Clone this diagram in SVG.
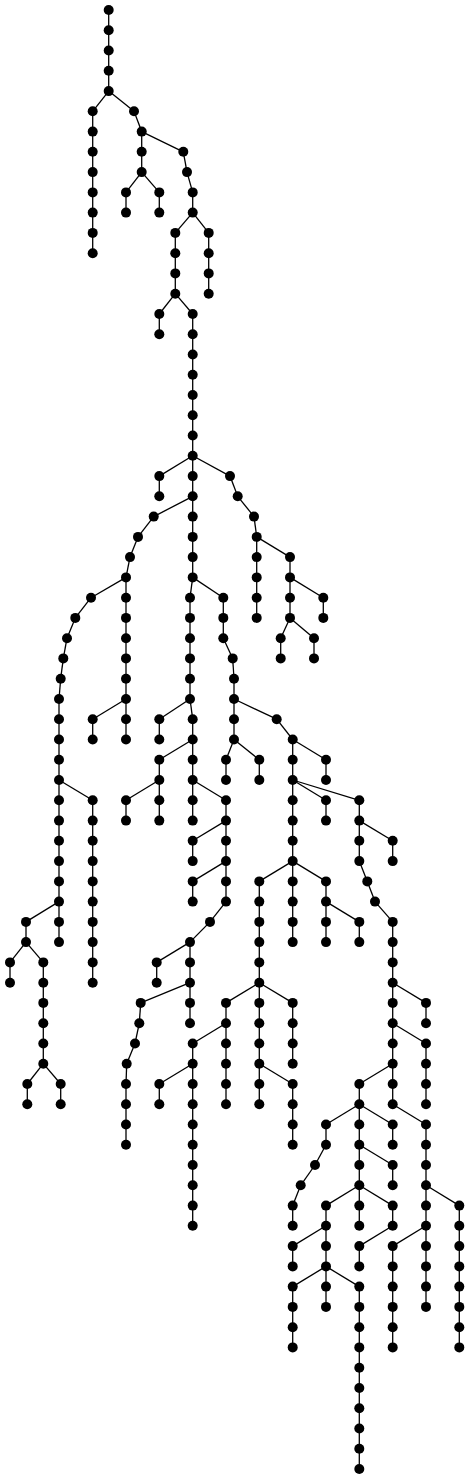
<svg xmlns="http://www.w3.org/2000/svg" width="470" height="1479" viewBox="0 0 470 1479">
<style>
.edges path{stroke:#000;stroke-width:1.3;fill:none}
.node circle{fill:#000}
</style>
<rect width="470" height="1479" fill="#fff"/>
<g id="connectors" class="edges">
<path d="M108.7 10V30.3"/><path d="M108.7 30.3V50.5"/><path d="M108.7 50.5V70.8"/><path d="M108.7 70.8V91.1"/>
<path d="M108.7 91.1L92.7 111.3"/><path d="M92.7 111.3V131.6"/><path d="M92.7 131.6V151.8"/><path d="M92.7 151.8V172.1"/><path d="M92.7 172.1V192.4"/><path d="M92.7 192.4V212.6"/><path d="M92.7 212.6V232.9"/><path d="M92.7 232.9V253.2"/>
<path d="M108.7 91.1L134 111.3"/><path d="M134 111.3L141.7 131.6"/><path d="M141.7 131.6V151.8"/><path d="M141.7 151.8V172.1"/>
<path d="M141.7 172.1L126 192.4"/><path d="M126 192.4V212.6"/><path d="M141.7 172.1L159.3 192.4"/><path d="M159.3 192.4V212.6"/>
<path d="M141.7 131.6L183.3 151.8"/><path d="M183.3 151.8L187 172.1"/><path d="M187 172.1L192.7 192.4"/><path d="M192.7 192.4V212.6"/>
<path d="M192.7 212.6L208.7 232.9"/><path d="M208.7 232.9V253.2"/><path d="M208.7 253.2V273.4"/><path d="M208.7 273.4V293.7"/>
<path d="M192.7 212.6L175.3 232.9"/><path d="M175.3 232.9V253.2"/><path d="M175.3 253.2V273.4"/><path d="M175.3 273.4V293.7"/>
<path d="M175.3 293.7L159.3 314"/><path d="M159.3 314V334.2"/>
<path d="M175.3 293.7L192.7 314"/><path d="M192.7 314V334.2"/><path d="M192.7 334.2V354.5"/><path d="M192.7 354.5V374.8"/><path d="M192.7 374.8V395"/><path d="M192.7 395V415.3"/><path d="M192.7 415.3V435.5"/><path d="M192.7 435.5V455.8"/>
<path d="M192.7 455.8L159.3 476.1"/><path d="M159.3 476.1V496.3"/>
<path d="M192.7 455.8V476.1"/><path d="M192.7 476.1V496.3"/>
<path d="M192.7 455.8L230 476.1"/><path d="M230 476.1L237.7 496.3"/><path d="M237.7 496.3L254 516.6"/><path d="M254 516.6L256.7 536.9"/>
<path d="M256.7 536.9V557.1"/><path d="M256.7 557.1V577.4"/><path d="M256.7 577.4V597.7"/><path d="M256.7 597.7V617.9"/>
<path d="M256.7 536.9L290 557.1"/><path d="M290 557.1V577.4"/>
<path d="M290 577.4L323.3 597.7"/><path d="M323.3 597.7V617.9"/>
<path d="M290 577.4V597.7"/><path d="M290 597.7V617.9"/>
<path d="M290 617.9L280.7 638.2"/><path d="M280.7 638.2V658.4"/>
<path d="M290 617.9L314 638.2"/><path d="M314 638.2V658.4"/>
<path d="M192.7 496.3L153.7 516.6"/><path d="M153.7 516.6L138 536.9"/><path d="M138 536.9L130 557.1"/><path d="M130 557.1L126 577.4"/>
<path d="M192.7 496.3V516.6"/><path d="M192.7 516.6V536.9"/><path d="M192.7 536.9V557.1"/><path d="M192.7 557.1V577.4"/>
<path d="M126 577.4L91 597.7"/><path d="M91 597.7L75.3 617.9"/><path d="M75.3 617.9L67 638.2"/><path d="M67 638.2L63.3 658.4"/><path d="M63.3 658.4L60.7 678.7"/><path d="M60.7 678.7L59 699"/>
<path d="M59 699V719.2"/><path d="M59 719.2V739.5"/><path d="M59 739.5V759.8"/><path d="M59 759.8V780"/>
<path d="M126 577.4V597.7"/><path d="M126 597.7V617.9"/><path d="M126 617.9V638.2"/><path d="M126 638.2V658.4"/><path d="M126 658.4V678.7"/><path d="M126 678.7V699"/>
<path d="M126 699L92.7 719.2"/><path d="M92.7 719.2V739.5"/>
<path d="M126 699V719.2"/><path d="M126 719.2V739.5"/>
<path d="M59 780V800.3"/><path d="M59 800.3V820.6"/><path d="M59 820.6V840.8"/><path d="M59 840.8V861.1"/><path d="M59 861.1V881.4"/><path d="M59 881.4V901.6"/>
<path d="M59 780L92.7 800.3"/><path d="M92.7 800.3V820.6"/><path d="M92.7 820.6V840.8"/><path d="M92.7 840.8V861.1"/><path d="M92.7 861.1V881.4"/><path d="M92.7 881.4V901.6"/><path d="M92.7 901.6V921.9"/><path d="M92.7 921.9V942.1"/><path d="M92.7 942.1V962.4"/><path d="M92.7 962.4V982.7"/>
<path d="M59 901.6L26 921.9"/><path d="M26 921.9V942.1"/>
<path d="M59 901.6V921.9"/><path d="M59 921.9V942.1"/>
<path d="M26 942.1L10 962.4"/><path d="M10 962.4V982.7"/>
<path d="M26 942.1L43.3 962.4"/><path d="M43.3 962.4V982.7"/><path d="M43.3 982.7V1002.9"/><path d="M43.3 1002.9V1023.2"/><path d="M43.3 1023.2V1043.5"/><path d="M43.3 1043.5V1063.7"/>
<path d="M43.3 1063.7L27.3 1084"/><path d="M27.3 1084V1104.3"/>
<path d="M43.3 1063.7L60.7 1084"/><path d="M60.7 1084V1104.3"/>
<path d="M192.7 577.4L190 597.7"/><path d="M190 597.7V617.9"/><path d="M190 617.9V638.2"/><path d="M190 638.2V658.4"/><path d="M190 658.4V678.7"/><path d="M190 678.7V699"/>
<path d="M190 699L159.3 719.2"/><path d="M159.3 719.2V739.5"/>
<path d="M190 699L192.7 719.2"/><path d="M192.7 719.2V739.5"/>
<path d="M192.7 739.5L159.3 759.8"/><path d="M159.3 759.8V780"/>
<path d="M159.3 780L126 800.3"/><path d="M126 800.3V820.6"/>
<path d="M159.3 780V800.3"/><path d="M159.3 800.3V820.6"/>
<path d="M192.7 739.5V759.8"/><path d="M192.7 759.8V780"/>
<path d="M192.7 780L226 800.3"/><path d="M226 800.3V820.6"/>
<path d="M192.7 780V800.3"/><path d="M192.7 800.3V820.6"/>
<path d="M226 820.6L192.7 840.8"/><path d="M192.7 840.8V861.1"/>
<path d="M226 820.6V840.8"/><path d="M226 840.8V861.1"/>
<path d="M226 861.1L192.7 881.4"/><path d="M192.7 881.4V901.6"/>
<path d="M226 861.1V881.4"/><path d="M226 881.4V901.6"/>
<path d="M226 901.6L210 921.9"/><path d="M210 921.9L190 942.1"/>
<path d="M190 942.1L156.7 962.4"/><path d="M156.7 962.4V982.7"/>
<path d="M190 942.1V962.4"/><path d="M190 962.4V982.7"/>
<path d="M190 982.7L140.7 1002.9"/><path d="M140.7 1002.9L139.3 1023.2"/><path d="M139.3 1023.2L135 1043.5"/><path d="M135 1043.5L126.7 1063.7"/><path d="M126.7 1063.7L126 1084"/>
<path d="M126 1084V1104.3"/><path d="M126 1104.3V1124.5"/><path d="M126 1124.5V1144.8"/>
<path d="M190 982.7V1002.9"/><path d="M190 1002.9V1023.2"/>
<path d="M192.7 577.4L223.3 597.7"/><path d="M223.3 597.7V617.9"/><path d="M223.3 617.9V638.2"/><path d="M223.3 638.2L232.7 658.4"/><path d="M232.7 658.4L234 678.7"/><path d="M234 678.7V699"/>
<path d="M234 699L276.7 719.2"/><path d="M276.7 719.2L292.7 739.5"/>
<path d="M234 699V719.2"/><path d="M234 719.2V739.5"/>
<path d="M234 739.5L226 759.8"/><path d="M226 759.8V780"/>
<path d="M234 739.5L259.3 759.8"/><path d="M259.3 759.8V780"/>
<path d="M292.7 739.5L326 759.8"/><path d="M326 759.8V780"/>
<path d="M292.7 739.5V759.8"/><path d="M292.7 759.8V780"/>
<path d="M292.7 780V800.3"/><path d="M292.7 800.3V820.6"/><path d="M292.7 820.6V840.8"/><path d="M292.7 840.8V861.1"/>
<path d="M292.7 780L326 800.3"/><path d="M326 800.3V820.6"/>
<path d="M292.7 780L359.3 800.3"/><path d="M359.3 800.3V820.6"/>
<path d="M359.3 820.6L392.7 840.8"/><path d="M392.7 840.8V861.1"/>
<path d="M359.3 820.6V840.8"/><path d="M359.3 840.8V861.1"/>
<path d="M359.3 861.1L367.3 881.4"/><path d="M367.3 881.4L375 901.6"/><path d="M375 901.6L392.7 921.9"/>
<path d="M392.7 921.9V942.1"/><path d="M392.7 942.1V962.4"/><path d="M392.7 962.4V982.7"/><path d="M392.7 982.7V1002.9"/><path d="M392.7 1002.9V1023.2"/>
<path d="M292.7 861.1L259.3 881.4"/><path d="M259.3 881.4V901.6"/><path d="M259.3 901.6V921.9"/><path d="M259.3 921.9V942.1"/><path d="M259.3 942.1V962.4"/><path d="M259.3 962.4V982.7"/>
<path d="M292.7 861.1V881.4"/><path d="M292.7 881.4V901.6"/><path d="M292.7 901.6V921.9"/><path d="M292.7 921.9V942.1"/>
<path d="M292.7 861.1L326 881.4"/><path d="M326 881.4V901.6"/>
<path d="M326 901.6V921.9"/><path d="M326 921.9V942.1"/>
<path d="M326 901.6L359.3 921.9"/><path d="M359.3 921.9V942.1"/>
<path d="M259.3 982.7L226 1002.9"/><path d="M226 1002.9V1023.2"/>
<path d="M259.3 982.7V1002.9"/><path d="M259.3 1002.9V1023.2"/><path d="M259.3 1023.2V1043.5"/><path d="M259.3 1043.5V1063.7"/>
<path d="M259.3 982.7L292.7 1002.9"/><path d="M292.7 1002.9V1023.2"/><path d="M292.7 1023.2V1043.5"/><path d="M292.7 1043.5V1063.7"/>
<path d="M226 1023.2L192.7 1043.5"/><path d="M192.7 1043.5V1063.7"/>
<path d="M226 1023.2V1043.5"/><path d="M226 1043.5V1063.7"/><path d="M226 1063.7V1084"/><path d="M226 1084V1104.3"/>
<path d="M192.7 1063.7L159.3 1084"/><path d="M159.3 1084V1104.3"/>
<path d="M192.7 1063.7V1084"/><path d="M192.7 1084V1104.3"/><path d="M192.7 1104.3V1124.5"/><path d="M192.7 1124.5V1144.8"/><path d="M192.7 1144.8V1165"/><path d="M192.7 1165V1185.3"/><path d="M192.7 1185.3V1205.6"/><path d="M192.7 1205.6V1225.8"/>
<path d="M259.3 1063.7V1084"/><path d="M259.3 1084V1104.3"/>
<path d="M259.3 1063.7L292.7 1084"/><path d="M292.7 1084V1104.3"/><path d="M292.7 1104.3V1124.5"/><path d="M292.7 1124.5V1144.8"/>
<path d="M392.7 982.7L426 1002.9"/><path d="M426 1002.9V1023.2"/>
<path d="M392.7 1023.2L426 1043.5"/><path d="M426 1043.5V1063.7"/><path d="M426 1063.7V1084"/><path d="M426 1084V1104.3"/>
<path d="M392.7 1023.2V1043.5"/><path d="M392.7 1043.5V1063.7"/>
<path d="M392.7 1063.7L359.3 1084"/><path d="M359.3 1084V1104.3"/>
<path d="M392.7 1063.7V1084"/><path d="M392.7 1084V1104.3"/>
<path d="M392.7 1104.3L426 1124.5"/><path d="M426 1124.5V1144.8"/><path d="M426 1144.8V1165"/><path d="M426 1165V1185.3"/>
<path d="M426 1185.3L459.3 1205.6"/><path d="M459.3 1205.6V1225.8"/><path d="M459.3 1225.8V1246.1"/><path d="M459.3 1246.1V1266.4"/><path d="M459.3 1266.4V1286.6"/><path d="M459.3 1286.6V1306.9"/><path d="M459.3 1306.9V1327.2"/><path d="M459.3 1327.2V1347.4"/>
<path d="M426 1185.3V1205.6"/><path d="M426 1205.6V1225.8"/>
<path d="M426 1225.8L392.7 1246.1"/><path d="M392.7 1246.1V1266.4"/><path d="M392.7 1266.4V1286.6"/><path d="M392.7 1286.6V1306.9"/><path d="M392.7 1306.9V1327.2"/><path d="M392.7 1327.2V1347.4"/>
<path d="M426 1225.8V1246.1"/><path d="M426 1246.1V1266.4"/><path d="M426 1266.4V1286.6"/><path d="M426 1286.6V1306.9"/>
<path d="M359.3 1104.3L326 1124.5"/><path d="M326 1124.5V1144.8"/><path d="M326 1144.8L315 1165"/><path d="M315 1165L300.7 1185.3"/><path d="M300.7 1185.3L292.7 1205.6"/><path d="M292.7 1205.6V1225.8"/>
<path d="M359.3 1104.3V1124.5"/><path d="M359.3 1124.5V1144.8"/>
<path d="M359.3 1104.3L392.7 1124.5"/><path d="M392.7 1124.5V1144.8"/>
<path d="M359.3 1144.8L392.7 1165"/><path d="M392.7 1165V1185.3"/>
<path d="M359.3 1144.8V1165"/><path d="M359.3 1165V1185.3"/>
<path d="M359.3 1185.3L326 1205.6"/><path d="M326 1205.6V1225.8"/>
<path d="M359.3 1185.3V1205.6"/><path d="M359.3 1205.6V1225.8"/>
<path d="M359.3 1185.3L392.7 1205.6"/><path d="M392.7 1205.6V1225.8"/>
<path d="M326 1225.8L292.7 1246.1"/><path d="M292.7 1246.1V1266.4"/>
<path d="M326 1225.8V1246.1"/><path d="M326 1246.1V1266.4"/>
<path d="M326 1266.4L292.7 1286.6"/><path d="M292.7 1286.6V1306.9"/><path d="M292.7 1306.9V1327.2"/><path d="M292.7 1327.2V1347.4"/>
<path d="M326 1266.4V1286.6"/><path d="M326 1286.6V1306.9"/>
<path d="M326 1266.4L359.3 1286.6"/><path d="M359.3 1286.6V1306.9"/><path d="M359.3 1306.9V1327.2"/><path d="M359.3 1327.2V1347.4"/><path d="M359.3 1347.4V1367.7"/><path d="M359.3 1367.7V1388"/><path d="M359.3 1388V1408.2"/><path d="M359.3 1408.2V1428.5"/><path d="M359.3 1428.5V1448.7"/><path d="M359.3 1448.7V1469"/>
<path d="M392.7 1225.8L359.3 1246.1"/><path d="M359.3 1246.1V1266.4"/>
</g>
<g id="nodes" class="node">
<g id="n0-108"><circle cx="108.7" cy="10" r="5"/></g>
<g id="n1-108"><circle cx="108.7" cy="30.3" r="5"/></g>
<g id="n2-108"><circle cx="108.7" cy="50.5" r="5"/></g>
<g id="n3-108"><circle cx="108.7" cy="70.8" r="5"/></g>
<g id="n4-108"><circle cx="108.7" cy="91.1" r="5"/></g>
<g id="n5-92"><circle cx="92.7" cy="111.3" r="5"/></g>
<g id="n5-134"><circle cx="134" cy="111.3" r="5"/></g>
<g id="n6-92"><circle cx="92.7" cy="131.6" r="5"/></g>
<g id="n6-141"><circle cx="141.7" cy="131.6" r="5"/></g>
<g id="n7-92"><circle cx="92.7" cy="151.8" r="5"/></g>
<g id="n7-141"><circle cx="141.7" cy="151.8" r="5"/></g>
<g id="n7-183"><circle cx="183.3" cy="151.8" r="5"/></g>
<g id="n8-92"><circle cx="92.7" cy="172.1" r="5"/></g>
<g id="n8-141"><circle cx="141.7" cy="172.1" r="5"/></g>
<g id="n8-187"><circle cx="187" cy="172.1" r="5"/></g>
<g id="n9-92"><circle cx="92.7" cy="192.4" r="5"/></g>
<g id="n9-126"><circle cx="126" cy="192.4" r="5"/></g>
<g id="n9-159"><circle cx="159.3" cy="192.4" r="5"/></g>
<g id="n9-192"><circle cx="192.7" cy="192.4" r="5"/></g>
<g id="n10-92"><circle cx="92.7" cy="212.6" r="5"/></g>
<g id="n10-126"><circle cx="126" cy="212.6" r="5"/></g>
<g id="n10-159"><circle cx="159.3" cy="212.6" r="5"/></g>
<g id="n10-192"><circle cx="192.7" cy="212.6" r="5"/></g>
<g id="n11-92"><circle cx="92.7" cy="232.9" r="5"/></g>
<g id="n11-175"><circle cx="175.3" cy="232.9" r="5"/></g>
<g id="n11-208"><circle cx="208.7" cy="232.9" r="5"/></g>
<g id="n12-92"><circle cx="92.7" cy="253.2" r="5"/></g>
<g id="n12-175"><circle cx="175.3" cy="253.2" r="5"/></g>
<g id="n12-208"><circle cx="208.7" cy="253.2" r="5"/></g>
<g id="n13-175"><circle cx="175.3" cy="273.4" r="5"/></g>
<g id="n13-208"><circle cx="208.7" cy="273.4" r="5"/></g>
<g id="n14-175"><circle cx="175.3" cy="293.7" r="5"/></g>
<g id="n14-208"><circle cx="208.7" cy="293.7" r="5"/></g>
<g id="n15-159"><circle cx="159.3" cy="314" r="5"/></g>
<g id="n15-192"><circle cx="192.7" cy="314" r="5"/></g>
<g id="n16-159"><circle cx="159.3" cy="334.2" r="5"/></g>
<g id="n16-192"><circle cx="192.7" cy="334.2" r="5"/></g>
<g id="n17-192"><circle cx="192.7" cy="354.5" r="5"/></g>
<g id="n18-192"><circle cx="192.7" cy="374.8" r="5"/></g>
<g id="n19-192"><circle cx="192.7" cy="395" r="5"/></g>
<g id="n20-192"><circle cx="192.7" cy="415.3" r="5"/></g>
<g id="n21-192"><circle cx="192.7" cy="435.5" r="5"/></g>
<g id="n22-192"><circle cx="192.7" cy="455.8" r="5"/></g>
<g id="n23-159"><circle cx="159.3" cy="476.1" r="5"/></g>
<g id="n23-192"><circle cx="192.7" cy="476.1" r="5"/></g>
<g id="n23-230"><circle cx="230" cy="476.1" r="5"/></g>
<g id="n24-159"><circle cx="159.3" cy="496.3" r="5"/></g>
<g id="n24-192"><circle cx="192.7" cy="496.3" r="5"/></g>
<g id="n24-237"><circle cx="237.7" cy="496.3" r="5"/></g>
<g id="n25-153"><circle cx="153.7" cy="516.6" r="5"/></g>
<g id="n25-192"><circle cx="192.7" cy="516.6" r="5"/></g>
<g id="n25-254"><circle cx="254" cy="516.6" r="5"/></g>
<g id="n26-138"><circle cx="138" cy="536.9" r="5"/></g>
<g id="n26-192"><circle cx="192.7" cy="536.9" r="5"/></g>
<g id="n26-256"><circle cx="256.7" cy="536.9" r="5"/></g>
<g id="n27-130"><circle cx="130" cy="557.1" r="5"/></g>
<g id="n27-192"><circle cx="192.7" cy="557.1" r="5"/></g>
<g id="n27-256"><circle cx="256.7" cy="557.1" r="5"/></g>
<g id="n27-290"><circle cx="290" cy="557.1" r="5"/></g>
<g id="n28-126"><circle cx="126" cy="577.4" r="5"/></g>
<g id="n28-192"><circle cx="192.7" cy="577.4" r="5"/></g>
<g id="n28-256"><circle cx="256.7" cy="577.4" r="5"/></g>
<g id="n28-290"><circle cx="290" cy="577.4" r="5"/></g>
<g id="n29-91"><circle cx="91" cy="597.7" r="5"/></g>
<g id="n29-126"><circle cx="126" cy="597.7" r="5"/></g>
<g id="n29-190"><circle cx="190" cy="597.7" r="5"/></g>
<g id="n29-223"><circle cx="223.3" cy="597.7" r="5"/></g>
<g id="n29-256"><circle cx="256.7" cy="597.7" r="5"/></g>
<g id="n29-290"><circle cx="290" cy="597.7" r="5"/></g>
<g id="n29-323"><circle cx="323.3" cy="597.7" r="5"/></g>
<g id="n30-75"><circle cx="75.3" cy="617.9" r="5"/></g>
<g id="n30-126"><circle cx="126" cy="617.9" r="5"/></g>
<g id="n30-190"><circle cx="190" cy="617.9" r="5"/></g>
<g id="n30-223"><circle cx="223.3" cy="617.9" r="5"/></g>
<g id="n30-256"><circle cx="256.7" cy="617.9" r="5"/></g>
<g id="n30-290"><circle cx="290" cy="617.9" r="5"/></g>
<g id="n30-323"><circle cx="323.3" cy="617.9" r="5"/></g>
<g id="n31-67"><circle cx="67" cy="638.2" r="5"/></g>
<g id="n31-126"><circle cx="126" cy="638.2" r="5"/></g>
<g id="n31-190"><circle cx="190" cy="638.2" r="5"/></g>
<g id="n31-223"><circle cx="223.3" cy="638.2" r="5"/></g>
<g id="n31-280"><circle cx="280.7" cy="638.2" r="5"/></g>
<g id="n31-314"><circle cx="314" cy="638.2" r="5"/></g>
<g id="n32-63"><circle cx="63.3" cy="658.4" r="5"/></g>
<g id="n32-126"><circle cx="126" cy="658.4" r="5"/></g>
<g id="n32-190"><circle cx="190" cy="658.4" r="5"/></g>
<g id="n32-232"><circle cx="232.7" cy="658.4" r="5"/></g>
<g id="n32-280"><circle cx="280.7" cy="658.4" r="5"/></g>
<g id="n32-314"><circle cx="314" cy="658.4" r="5"/></g>
<g id="n33-60"><circle cx="60.7" cy="678.7" r="5"/></g>
<g id="n33-126"><circle cx="126" cy="678.7" r="5"/></g>
<g id="n33-190"><circle cx="190" cy="678.7" r="5"/></g>
<g id="n33-234"><circle cx="234" cy="678.7" r="5"/></g>
<g id="n34-59"><circle cx="59" cy="699" r="5"/></g>
<g id="n34-126"><circle cx="126" cy="699" r="5"/></g>
<g id="n34-190"><circle cx="190" cy="699" r="5"/></g>
<g id="n34-234"><circle cx="234" cy="699" r="5"/></g>
<g id="n35-59"><circle cx="59" cy="719.2" r="5"/></g>
<g id="n35-92"><circle cx="92.7" cy="719.2" r="5"/></g>
<g id="n35-126"><circle cx="126" cy="719.2" r="5"/></g>
<g id="n35-159"><circle cx="159.3" cy="719.2" r="5"/></g>
<g id="n35-192"><circle cx="192.7" cy="719.2" r="5"/></g>
<g id="n35-234"><circle cx="234" cy="719.2" r="5"/></g>
<g id="n35-276"><circle cx="276.7" cy="719.2" r="5"/></g>
<g id="n36-59"><circle cx="59" cy="739.5" r="5"/></g>
<g id="n36-92"><circle cx="92.7" cy="739.5" r="5"/></g>
<g id="n36-126"><circle cx="126" cy="739.5" r="5"/></g>
<g id="n36-159"><circle cx="159.3" cy="739.5" r="5"/></g>
<g id="n36-192"><circle cx="192.7" cy="739.5" r="5"/></g>
<g id="n36-234"><circle cx="234" cy="739.5" r="5"/></g>
<g id="n36-292"><circle cx="292.7" cy="739.5" r="5"/></g>
<g id="n37-59"><circle cx="59" cy="759.8" r="5"/></g>
<g id="n37-159"><circle cx="159.3" cy="759.8" r="5"/></g>
<g id="n37-192"><circle cx="192.7" cy="759.8" r="5"/></g>
<g id="n37-226"><circle cx="226" cy="759.8" r="5"/></g>
<g id="n37-259"><circle cx="259.3" cy="759.8" r="5"/></g>
<g id="n37-292"><circle cx="292.7" cy="759.8" r="5"/></g>
<g id="n37-326"><circle cx="326" cy="759.8" r="5"/></g>
<g id="n38-59"><circle cx="59" cy="780" r="5"/></g>
<g id="n38-159"><circle cx="159.3" cy="780" r="5"/></g>
<g id="n38-192"><circle cx="192.7" cy="780" r="5"/></g>
<g id="n38-226"><circle cx="226" cy="780" r="5"/></g>
<g id="n38-259"><circle cx="259.3" cy="780" r="5"/></g>
<g id="n38-292"><circle cx="292.7" cy="780" r="5"/></g>
<g id="n38-326"><circle cx="326" cy="780" r="5"/></g>
<g id="n39-59"><circle cx="59" cy="800.3" r="5"/></g>
<g id="n39-92"><circle cx="92.7" cy="800.3" r="5"/></g>
<g id="n39-126"><circle cx="126" cy="800.3" r="5"/></g>
<g id="n39-159"><circle cx="159.3" cy="800.3" r="5"/></g>
<g id="n39-192"><circle cx="192.7" cy="800.3" r="5"/></g>
<g id="n39-226"><circle cx="226" cy="800.3" r="5"/></g>
<g id="n39-292"><circle cx="292.7" cy="800.3" r="5"/></g>
<g id="n39-326"><circle cx="326" cy="800.3" r="5"/></g>
<g id="n39-359"><circle cx="359.3" cy="800.3" r="5"/></g>
<g id="n40-59"><circle cx="59" cy="820.6" r="5"/></g>
<g id="n40-92"><circle cx="92.7" cy="820.6" r="5"/></g>
<g id="n40-126"><circle cx="126" cy="820.6" r="5"/></g>
<g id="n40-159"><circle cx="159.3" cy="820.6" r="5"/></g>
<g id="n40-192"><circle cx="192.7" cy="820.6" r="5"/></g>
<g id="n40-226"><circle cx="226" cy="820.6" r="5"/></g>
<g id="n40-292"><circle cx="292.7" cy="820.6" r="5"/></g>
<g id="n40-326"><circle cx="326" cy="820.6" r="5"/></g>
<g id="n40-359"><circle cx="359.3" cy="820.6" r="5"/></g>
<g id="n41-59"><circle cx="59" cy="840.8" r="5"/></g>
<g id="n41-92"><circle cx="92.7" cy="840.8" r="5"/></g>
<g id="n41-192"><circle cx="192.7" cy="840.8" r="5"/></g>
<g id="n41-226"><circle cx="226" cy="840.8" r="5"/></g>
<g id="n41-292"><circle cx="292.7" cy="840.8" r="5"/></g>
<g id="n41-359"><circle cx="359.3" cy="840.8" r="5"/></g>
<g id="n41-392"><circle cx="392.7" cy="840.8" r="5"/></g>
<g id="n42-59"><circle cx="59" cy="861.1" r="5"/></g>
<g id="n42-92"><circle cx="92.7" cy="861.1" r="5"/></g>
<g id="n42-192"><circle cx="192.7" cy="861.1" r="5"/></g>
<g id="n42-226"><circle cx="226" cy="861.1" r="5"/></g>
<g id="n42-292"><circle cx="292.7" cy="861.1" r="5"/></g>
<g id="n42-359"><circle cx="359.3" cy="861.1" r="5"/></g>
<g id="n42-392"><circle cx="392.7" cy="861.1" r="5"/></g>
<g id="n43-59"><circle cx="59" cy="881.4" r="5"/></g>
<g id="n43-92"><circle cx="92.7" cy="881.4" r="5"/></g>
<g id="n43-192"><circle cx="192.7" cy="881.4" r="5"/></g>
<g id="n43-226"><circle cx="226" cy="881.4" r="5"/></g>
<g id="n43-259"><circle cx="259.3" cy="881.4" r="5"/></g>
<g id="n43-292"><circle cx="292.7" cy="881.4" r="5"/></g>
<g id="n43-326"><circle cx="326" cy="881.4" r="5"/></g>
<g id="n43-367"><circle cx="367.3" cy="881.4" r="5"/></g>
<g id="n44-59"><circle cx="59" cy="901.6" r="5"/></g>
<g id="n44-92"><circle cx="92.7" cy="901.6" r="5"/></g>
<g id="n44-192"><circle cx="192.7" cy="901.6" r="5"/></g>
<g id="n44-226"><circle cx="226" cy="901.6" r="5"/></g>
<g id="n44-259"><circle cx="259.3" cy="901.6" r="5"/></g>
<g id="n44-292"><circle cx="292.7" cy="901.6" r="5"/></g>
<g id="n44-326"><circle cx="326" cy="901.6" r="5"/></g>
<g id="n44-375"><circle cx="375" cy="901.6" r="5"/></g>
<g id="n45-26"><circle cx="26" cy="921.9" r="5"/></g>
<g id="n45-59"><circle cx="59" cy="921.9" r="5"/></g>
<g id="n45-92"><circle cx="92.7" cy="921.9" r="5"/></g>
<g id="n45-210"><circle cx="210" cy="921.9" r="5"/></g>
<g id="n45-259"><circle cx="259.3" cy="921.9" r="5"/></g>
<g id="n45-292"><circle cx="292.7" cy="921.9" r="5"/></g>
<g id="n45-326"><circle cx="326" cy="921.9" r="5"/></g>
<g id="n45-359"><circle cx="359.3" cy="921.9" r="5"/></g>
<g id="n45-392"><circle cx="392.7" cy="921.9" r="5"/></g>
<g id="n46-26"><circle cx="26" cy="942.1" r="5"/></g>
<g id="n46-59"><circle cx="59" cy="942.1" r="5"/></g>
<g id="n46-92"><circle cx="92.7" cy="942.1" r="5"/></g>
<g id="n46-190"><circle cx="190" cy="942.1" r="5"/></g>
<g id="n46-259"><circle cx="259.3" cy="942.1" r="5"/></g>
<g id="n46-292"><circle cx="292.7" cy="942.1" r="5"/></g>
<g id="n46-326"><circle cx="326" cy="942.1" r="5"/></g>
<g id="n46-359"><circle cx="359.3" cy="942.1" r="5"/></g>
<g id="n46-392"><circle cx="392.7" cy="942.1" r="5"/></g>
<g id="n47-10"><circle cx="10" cy="962.4" r="5"/></g>
<g id="n47-43"><circle cx="43.3" cy="962.4" r="5"/></g>
<g id="n47-92"><circle cx="92.7" cy="962.4" r="5"/></g>
<g id="n47-156"><circle cx="156.7" cy="962.4" r="5"/></g>
<g id="n47-190"><circle cx="190" cy="962.4" r="5"/></g>
<g id="n47-259"><circle cx="259.3" cy="962.4" r="5"/></g>
<g id="n47-392"><circle cx="392.7" cy="962.4" r="5"/></g>
<g id="n48-10"><circle cx="10" cy="982.7" r="5"/></g>
<g id="n48-43"><circle cx="43.3" cy="982.7" r="5"/></g>
<g id="n48-92"><circle cx="92.7" cy="982.7" r="5"/></g>
<g id="n48-156"><circle cx="156.7" cy="982.7" r="5"/></g>
<g id="n48-190"><circle cx="190" cy="982.7" r="5"/></g>
<g id="n48-259"><circle cx="259.3" cy="982.7" r="5"/></g>
<g id="n48-392"><circle cx="392.7" cy="982.7" r="5"/></g>
<g id="n49-43"><circle cx="43.3" cy="1002.9" r="5"/></g>
<g id="n49-140"><circle cx="140.7" cy="1002.9" r="5"/></g>
<g id="n49-190"><circle cx="190" cy="1002.9" r="5"/></g>
<g id="n49-226"><circle cx="226" cy="1002.9" r="5"/></g>
<g id="n49-259"><circle cx="259.3" cy="1002.9" r="5"/></g>
<g id="n49-292"><circle cx="292.7" cy="1002.9" r="5"/></g>
<g id="n49-392"><circle cx="392.7" cy="1002.9" r="5"/></g>
<g id="n49-426"><circle cx="426" cy="1002.9" r="5"/></g>
<g id="n50-43"><circle cx="43.3" cy="1023.2" r="5"/></g>
<g id="n50-139"><circle cx="139.3" cy="1023.2" r="5"/></g>
<g id="n50-190"><circle cx="190" cy="1023.2" r="5"/></g>
<g id="n50-226"><circle cx="226" cy="1023.2" r="5"/></g>
<g id="n50-259"><circle cx="259.3" cy="1023.2" r="5"/></g>
<g id="n50-292"><circle cx="292.7" cy="1023.2" r="5"/></g>
<g id="n50-392"><circle cx="392.7" cy="1023.2" r="5"/></g>
<g id="n50-426"><circle cx="426" cy="1023.2" r="5"/></g>
<g id="n51-43"><circle cx="43.3" cy="1043.5" r="5"/></g>
<g id="n51-135"><circle cx="135" cy="1043.5" r="5"/></g>
<g id="n51-192"><circle cx="192.7" cy="1043.5" r="5"/></g>
<g id="n51-226"><circle cx="226" cy="1043.5" r="5"/></g>
<g id="n51-259"><circle cx="259.3" cy="1043.5" r="5"/></g>
<g id="n51-292"><circle cx="292.7" cy="1043.5" r="5"/></g>
<g id="n51-392"><circle cx="392.7" cy="1043.5" r="5"/></g>
<g id="n51-426"><circle cx="426" cy="1043.5" r="5"/></g>
<g id="n52-43"><circle cx="43.3" cy="1063.7" r="5"/></g>
<g id="n52-126"><circle cx="126.7" cy="1063.7" r="5"/></g>
<g id="n52-192"><circle cx="192.7" cy="1063.7" r="5"/></g>
<g id="n52-226"><circle cx="226" cy="1063.7" r="5"/></g>
<g id="n52-259"><circle cx="259.3" cy="1063.7" r="5"/></g>
<g id="n52-292"><circle cx="292.7" cy="1063.7" r="5"/></g>
<g id="n52-392"><circle cx="392.7" cy="1063.7" r="5"/></g>
<g id="n52-426"><circle cx="426" cy="1063.7" r="5"/></g>
<g id="n53-27"><circle cx="27.3" cy="1084" r="5"/></g>
<g id="n53-60"><circle cx="60.7" cy="1084" r="5"/></g>
<g id="n53-126"><circle cx="126" cy="1084" r="5"/></g>
<g id="n53-159"><circle cx="159.3" cy="1084" r="5"/></g>
<g id="n53-192"><circle cx="192.7" cy="1084" r="5"/></g>
<g id="n53-226"><circle cx="226" cy="1084" r="5"/></g>
<g id="n53-259"><circle cx="259.3" cy="1084" r="5"/></g>
<g id="n53-292"><circle cx="292.7" cy="1084" r="5"/></g>
<g id="n53-359"><circle cx="359.3" cy="1084" r="5"/></g>
<g id="n53-392"><circle cx="392.7" cy="1084" r="5"/></g>
<g id="n53-426"><circle cx="426" cy="1084" r="5"/></g>
<g id="n54-27"><circle cx="27.3" cy="1104.3" r="5"/></g>
<g id="n54-60"><circle cx="60.7" cy="1104.3" r="5"/></g>
<g id="n54-126"><circle cx="126" cy="1104.3" r="5"/></g>
<g id="n54-159"><circle cx="159.3" cy="1104.3" r="5"/></g>
<g id="n54-192"><circle cx="192.7" cy="1104.3" r="5"/></g>
<g id="n54-226"><circle cx="226" cy="1104.3" r="5"/></g>
<g id="n54-259"><circle cx="259.3" cy="1104.3" r="5"/></g>
<g id="n54-292"><circle cx="292.7" cy="1104.3" r="5"/></g>
<g id="n54-359"><circle cx="359.3" cy="1104.3" r="5"/></g>
<g id="n54-392"><circle cx="392.7" cy="1104.3" r="5"/></g>
<g id="n54-426"><circle cx="426" cy="1104.3" r="5"/></g>
<g id="n55-126"><circle cx="126" cy="1124.5" r="5"/></g>
<g id="n55-192"><circle cx="192.7" cy="1124.5" r="5"/></g>
<g id="n55-292"><circle cx="292.7" cy="1124.5" r="5"/></g>
<g id="n55-326"><circle cx="326" cy="1124.5" r="5"/></g>
<g id="n55-359"><circle cx="359.3" cy="1124.5" r="5"/></g>
<g id="n55-392"><circle cx="392.7" cy="1124.5" r="5"/></g>
<g id="n55-426"><circle cx="426" cy="1124.5" r="5"/></g>
<g id="n56-126"><circle cx="126" cy="1144.8" r="5"/></g>
<g id="n56-192"><circle cx="192.7" cy="1144.8" r="5"/></g>
<g id="n56-292"><circle cx="292.7" cy="1144.8" r="5"/></g>
<g id="n56-326"><circle cx="326" cy="1144.8" r="5"/></g>
<g id="n56-359"><circle cx="359.3" cy="1144.8" r="5"/></g>
<g id="n56-392"><circle cx="392.7" cy="1144.8" r="5"/></g>
<g id="n56-426"><circle cx="426" cy="1144.8" r="5"/></g>
<g id="n57-192"><circle cx="192.7" cy="1165" r="5"/></g>
<g id="n57-315"><circle cx="315" cy="1165" r="5"/></g>
<g id="n57-359"><circle cx="359.3" cy="1165" r="5"/></g>
<g id="n57-392"><circle cx="392.7" cy="1165" r="5"/></g>
<g id="n57-426"><circle cx="426" cy="1165" r="5"/></g>
<g id="n58-192"><circle cx="192.7" cy="1185.3" r="5"/></g>
<g id="n58-300"><circle cx="300.7" cy="1185.3" r="5"/></g>
<g id="n58-359"><circle cx="359.3" cy="1185.3" r="5"/></g>
<g id="n58-392"><circle cx="392.7" cy="1185.3" r="5"/></g>
<g id="n58-426"><circle cx="426" cy="1185.3" r="5"/></g>
<g id="n59-192"><circle cx="192.7" cy="1205.6" r="5"/></g>
<g id="n59-292"><circle cx="292.7" cy="1205.6" r="5"/></g>
<g id="n59-326"><circle cx="326" cy="1205.6" r="5"/></g>
<g id="n59-359"><circle cx="359.3" cy="1205.6" r="5"/></g>
<g id="n59-392"><circle cx="392.7" cy="1205.6" r="5"/></g>
<g id="n59-426"><circle cx="426" cy="1205.6" r="5"/></g>
<g id="n59-459"><circle cx="459.3" cy="1205.6" r="5"/></g>
<g id="n60-192"><circle cx="192.7" cy="1225.8" r="5"/></g>
<g id="n60-292"><circle cx="292.7" cy="1225.8" r="5"/></g>
<g id="n60-326"><circle cx="326" cy="1225.8" r="5"/></g>
<g id="n60-359"><circle cx="359.3" cy="1225.8" r="5"/></g>
<g id="n60-392"><circle cx="392.7" cy="1225.8" r="5"/></g>
<g id="n60-426"><circle cx="426" cy="1225.8" r="5"/></g>
<g id="n60-459"><circle cx="459.3" cy="1225.8" r="5"/></g>
<g id="n61-292"><circle cx="292.7" cy="1246.1" r="5"/></g>
<g id="n61-326"><circle cx="326" cy="1246.1" r="5"/></g>
<g id="n61-359"><circle cx="359.3" cy="1246.1" r="5"/></g>
<g id="n61-392"><circle cx="392.7" cy="1246.1" r="5"/></g>
<g id="n61-426"><circle cx="426" cy="1246.1" r="5"/></g>
<g id="n61-459"><circle cx="459.3" cy="1246.1" r="5"/></g>
<g id="n62-292"><circle cx="292.7" cy="1266.4" r="5"/></g>
<g id="n62-326"><circle cx="326" cy="1266.4" r="5"/></g>
<g id="n62-359"><circle cx="359.3" cy="1266.4" r="5"/></g>
<g id="n62-392"><circle cx="392.7" cy="1266.4" r="5"/></g>
<g id="n62-426"><circle cx="426" cy="1266.4" r="5"/></g>
<g id="n62-459"><circle cx="459.3" cy="1266.4" r="5"/></g>
<g id="n63-292"><circle cx="292.7" cy="1286.6" r="5"/></g>
<g id="n63-326"><circle cx="326" cy="1286.6" r="5"/></g>
<g id="n63-359"><circle cx="359.3" cy="1286.6" r="5"/></g>
<g id="n63-392"><circle cx="392.7" cy="1286.6" r="5"/></g>
<g id="n63-426"><circle cx="426" cy="1286.6" r="5"/></g>
<g id="n63-459"><circle cx="459.3" cy="1286.6" r="5"/></g>
<g id="n64-292"><circle cx="292.7" cy="1306.9" r="5"/></g>
<g id="n64-326"><circle cx="326" cy="1306.9" r="5"/></g>
<g id="n64-359"><circle cx="359.3" cy="1306.9" r="5"/></g>
<g id="n64-392"><circle cx="392.7" cy="1306.9" r="5"/></g>
<g id="n64-426"><circle cx="426" cy="1306.9" r="5"/></g>
<g id="n64-459"><circle cx="459.3" cy="1306.9" r="5"/></g>
<g id="n65-292"><circle cx="292.7" cy="1327.2" r="5"/></g>
<g id="n65-359"><circle cx="359.3" cy="1327.2" r="5"/></g>
<g id="n65-392"><circle cx="392.7" cy="1327.2" r="5"/></g>
<g id="n65-459"><circle cx="459.3" cy="1327.2" r="5"/></g>
<g id="n66-292"><circle cx="292.7" cy="1347.4" r="5"/></g>
<g id="n66-359"><circle cx="359.3" cy="1347.4" r="5"/></g>
<g id="n66-392"><circle cx="392.7" cy="1347.4" r="5"/></g>
<g id="n66-459"><circle cx="459.3" cy="1347.4" r="5"/></g>
<g id="n67-359"><circle cx="359.3" cy="1367.7" r="5"/></g>
<g id="n68-359"><circle cx="359.3" cy="1388" r="5"/></g>
<g id="n69-359"><circle cx="359.3" cy="1408.2" r="5"/></g>
<g id="n70-359"><circle cx="359.3" cy="1428.5" r="5"/></g>
<g id="n71-359"><circle cx="359.3" cy="1448.7" r="5"/></g>
<g id="n72-359"><circle cx="359.3" cy="1469" r="5"/></g>
</g>
</svg>
